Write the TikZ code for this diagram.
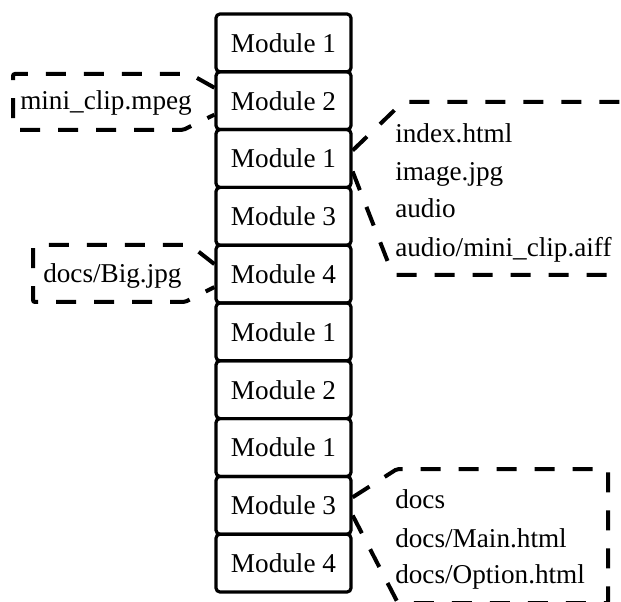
\documentclass[tikz,border=0pt]{standalone}
\usepackage{fontspec}
\setmainfont{Liberation Serif}
\usetikzlibrary{calc}
\begin{document}
\begin{tikzpicture}[x=0.75pt,y=-0.75pt,
  txt/.style={font=\fontsize{20.4}{24}\selectfont},
  modbox/.style={txt,draw,line width=2.4pt,rounded corners=3pt,minimum width=101.25pt,minimum height=43.35pt,inner sep=0pt},
  callout/.style={line width=3pt,dash pattern=on 15pt off 13.5pt,rounded corners=1.5pt},
  lbl/.style={txt,anchor=base west,inner sep=0pt}]
\useasboundingbox (0,0) rectangle (621,602);
\clip (0,0) rectangle (621,602);
\foreach \t [count=\k] in {Module 1,Module 2,Module 1,Module 3,Module 4,Module 1,Module 2,Module 1,Module 3,Module 4}
  \node[modbox] (m\k) at (283.5,{14+57.8*(\k-0.5)}) {\t};
% left labels
\node[lbl] (t1) at (20,110) {mini\_clip.mpeg};
\node[lbl] (t2) at (43,283) {docs/Big.jpg};
% right labels
\node[lbl] (r1) at (395,143) {index.html};
\node[lbl] (r2) at (395,181) {image.jpg};
\node[lbl] (r3) at (395,218) {audio};
\node[lbl] (r4) at (395,257) {audio/mini\_clip.aiff};
\node[lbl] (b1) at (395,508) {docs};
\node[lbl] (b2) at (395,547) {docs/Main.html};
\node[lbl] (b3) at (395,583) {docs/Option.html};
% callouts
\draw[callout] ($(m2.west)+(0,-13)$) -- (190,74) -- (13,74) -- (13,130) -- (183,130) -- ($(m2.west)+(0,14)$);
\draw[callout] ($(m5.west)+(0,-10)$) -- (190,245) -- (33,245) -- (33,302) -- (185,302) -- ($(m5.west)+(0,13)$);
\draw[callout] ($(m3.east)+(0,-8)$) -- (403,102) -- (640,102);
\draw[callout] ($(m3.east)+(0,13)$) -- (393,275) -- (640,275);
\draw[callout] ($(m9.east)+(0,-8)$) -- (397,469) -- (608,469) -- (608,603.2) -- (398,603.2) -- ($(m9.east)+(0,10)$);
\end{tikzpicture}
\end{document}
